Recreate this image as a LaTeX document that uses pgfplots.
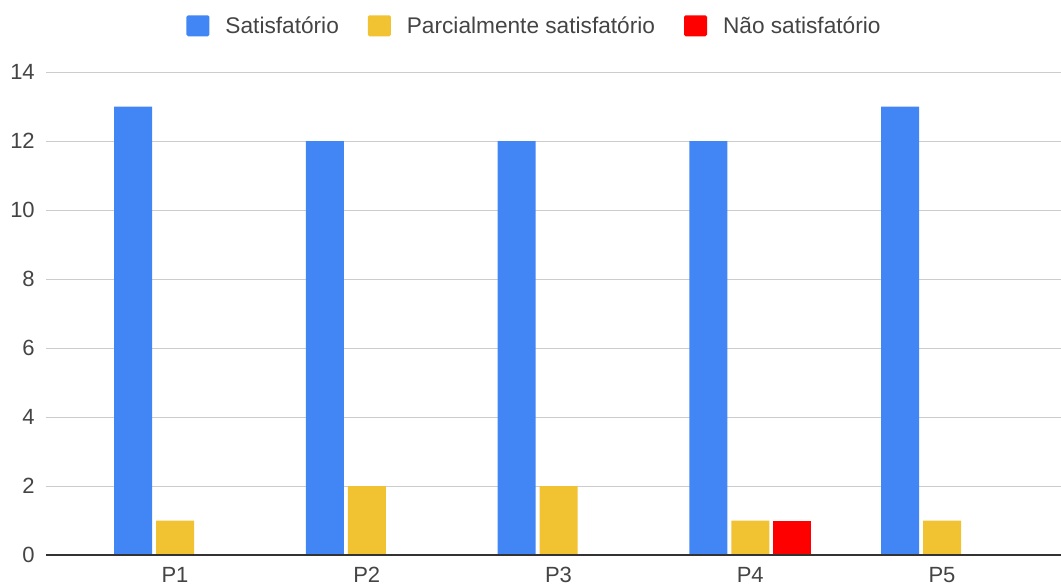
\documentclass[border=0pt]{standalone}
\usepackage{fontspec}
\setmainfont{Liberation Sans}
\usepackage{pgfplots}
\pgfplotsset{compat=1.18}
\definecolor{cblue}{HTML}{4285F4}
\definecolor{cyellow}{HTML}{F1C232}
\definecolor{cred}{HTML}{FF0000}
\definecolor{gridgray}{HTML}{CCCCCC}
\definecolor{axisdark}{HTML}{333333}
\definecolor{textgray}{HTML}{444444}
\pgfplotsset{
  sqlegend/.style={legend image code/.code={\fill[##1, rounded corners=1.2pt] (0pt,-2.1pt) rectangle (17.25pt,13.65pt);}},
  mybar/.style={ybar, bar width=28.5pt, draw=none, sqlegend},
}
\begin{document}
\fontsize{16.5}{19.8}\selectfont
\begin{tikzpicture}
\path[use as bounding box] (-34.5pt,-24pt) rectangle (761.25pt,416.25pt);
\begin{axis}[
  at={(0,0)}, anchor=south west,
  scale only axis, width=761.25pt, height=362.25pt,
  xmin=-0.6728, xmax=4.6206, ymin=0, ymax=14,
  xtick={0,1,2,3,4}, xticklabels={P1,P2,P3,P4,P5},
  ytick={0,2,4,6,8,10,12,14},
  major tick length=0pt,
  axis line style={draw=none},
  ymajorgrids, grid style={draw=gridgray, line width=0.75pt},
  /pgf/number format/assume math mode=true,
  tick label style={font=\fontsize{16.5}{19.8}\selectfont, text=textgray},
  yticklabel style={anchor=east, inner sep=0pt, xshift=-8.25pt},
  xticklabel style={anchor=north, inner sep=0pt, yshift=-9pt},
  legend style={at={(0.4803,1)}, anchor=center, yshift=34.5pt, draw=none, fill=none,
    inner sep=0pt, legend columns=-1, text=textgray,
    font=\fontsize{17}{20.4}\selectfont,
    nodes={inner sep=0pt},
    cells={anchor=base west},
    /tikz/every odd column/.append style={column sep=12pt},
    /tikz/every even column/.append style={column sep=21.75pt}},
]
\addplot[mybar, bar shift=-31.5pt, fill=cblue]
  coordinates {(0,13) (1,12) (2,12) (3,12) (4,13)};
\addlegendentry{Satisfatório}
\addplot[mybar, bar shift=0pt, fill=cyellow]
  coordinates {(0,1) (1,2) (2,2) (3,1) (4,1)};
\addlegendentry{Parcialmente satisfatório}
\addplot[mybar, bar shift=31.5pt, fill=cred]
  coordinates {(3,1)};
\addlegendentry{Não satisfatório}
\draw[axisdark, line width=1.1pt] (rel axis cs:0,0) -- (rel axis cs:1,0);
\end{axis}
\end{tikzpicture}
\end{document}
